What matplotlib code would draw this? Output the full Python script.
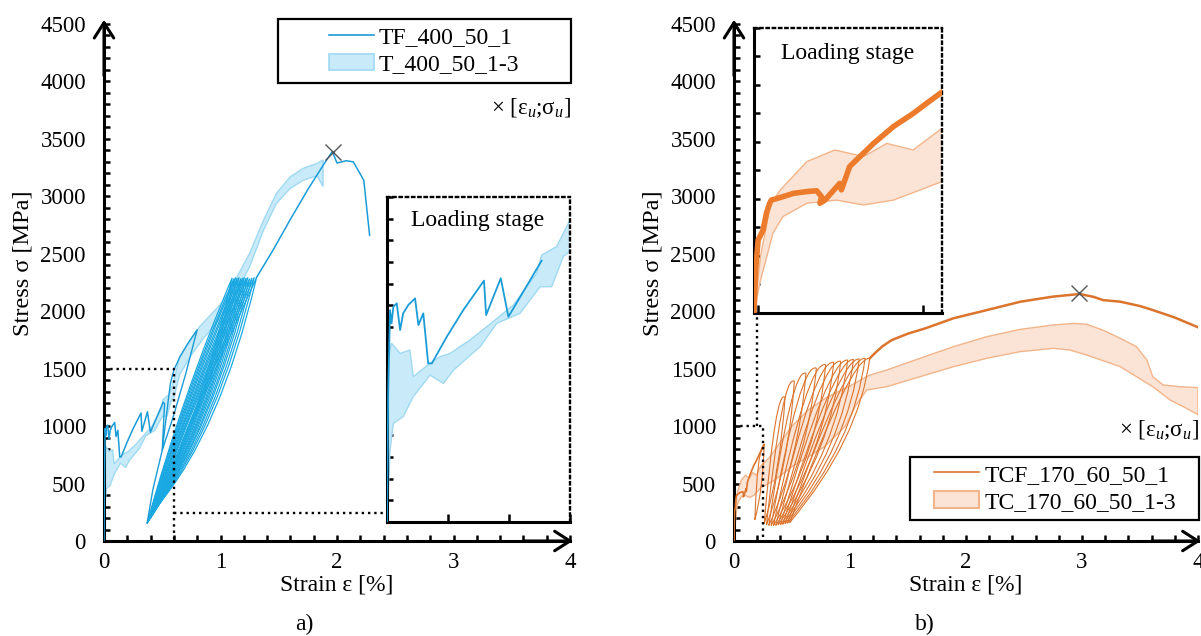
import matplotlib
matplotlib.use('Agg')
import matplotlib.pyplot as plt
from matplotlib.path import Path
from matplotlib.patches import PathPatch, Patch, Rectangle
from matplotlib.lines import Line2D
from matplotlib.ticker import MultipleLocator

plt.rcParams['font.family'] = ['Liberation Serif', 'DejaVu Serif']
plt.rcParams['mathtext.fontset'] = 'custom'
plt.rcParams['mathtext.rm'] = 'Liberation Serif'
plt.rcParams['mathtext.it'] = 'Liberation Serif:italic'

# ---------------- panel a) TF_400_50_1 / T_400_50_1-3 ----------------
tf_load_e = [0, 0.004, 0.01, 0.015, 0.021, 0.032, 0.043, 0.053, 0.07, 0.092, 0.103,
             0.119, 0.135, 0.147, 0.196, 0.25, 0.318, 0.325, 0.373, 0.398, 0.507]
tf_load_s = [0, 609, 978, 917, 994, 1009, 886, 963, 1002, 1032, 909,
             963, 732, 732, 855, 978, 1114, 955, 1125, 947, 1206]
tf_cyc_e = [0.507, 0.52, 0.50, 0.55, 0.57, 0.6, 0.65, 0.72, 0.8, 0.7, 0.6, 0.5, 0.42, 0.37]
tf_cyc_s = [1206, 1198, 792, 1212, 1372, 1488, 1600, 1720, 1840, 1450, 1100, 790, 450, 154]
tf_post_e = [1.31, 1.45, 1.60, 1.75, 1.90, 1.96, 2.0, 2.08, 2.14, 2.23, 2.28]
tf_post_s = [2295, 2530, 2800, 3060, 3300, 3390, 3290, 3310, 3300, 3140, 2660]

# unloading / reloading loops: bottom, top and curve control points
tf_loop_bot_e = [0.37, 0.375, 0.38, 0.385, 0.39, 0.40, 0.405, 0.41, 0.42, 0.425, 0.43, 0.44,
                 0.45, 0.46]
tf_loop_bot_s = [154, 162, 170, 180, 190, 200, 210, 220, 232, 245, 258, 272, 290, 310]
tf_loop_top_e = [1.10, 1.115, 1.13, 1.145, 1.16, 1.175, 1.19, 1.205, 1.22, 1.235, 1.25, 1.27,
                 1.29, 1.31]
tf_loop_top_s = [2290, 2285, 2295, 2290, 2295, 2285, 2290, 2295, 2290, 2295, 2285, 2290,
                 2295, 2295]
tf_loop_unl_e = [0.68, 0.69, 0.70, 0.71, 0.72, 0.73, 0.74, 0.75, 0.76, 0.77, 0.78, 0.80,
                 0.81, 0.83]
tf_loop_unl_s = [1290, 1285, 1280, 1275, 1270, 1265, 1260, 1255, 1250, 1245, 1240, 1235,
                 1230, 1225]
tf_loop_rel_e = [0.82, 0.83, 0.84, 0.85, 0.86, 0.87, 0.88, 0.89, 0.90, 0.92, 0.93, 0.95,
                 0.97, 1.00]
tf_loop_rel_s = [1030, 1025, 1020, 1015, 1010, 1005, 1000, 995, 990, 985, 980, 970,
                 960, 950]

t_band_up_e = [0, 0.004, 0.015, 0.043, 0.075, 0.086, 0.141, 0.174, 0.207, 0.239, 0.272, 0.327,
               0.414, 0.491, 0.507, 0.556, 0.6, 0.65, 0.82, 1.0, 1.08, 1.25, 1.37, 1.48, 1.60,
               1.71, 1.83, 1.88]
t_band_up_s = [0, 763, 825, 778, 794, 671, 732, 763, 778, 809, 840, 901,
               1001, 1148, 1232, 1271, 1394, 1604, 1865, 2060, 2180, 2504, 2794, 3026, 3171,
               3244, 3287, 3316]
t_band_lo_e = [0, 0.01, 0.021, 0.053, 0.086, 0.141, 0.185, 0.218, 0.305, 0.36, 0.436, 0.502,
               0.54, 0.578, 0.6, 0.65, 0.75, 0.85, 1.0, 1.08, 1.25, 1.37, 1.48, 1.60, 1.71,
               1.83, 1.88]
t_band_lo_s = [0, 332, 455, 486, 578, 678, 640, 701, 809, 917, 963, 1086,
               1086, 1225, 1250, 1450, 1620, 1760, 1940, 2050, 2388, 2707, 2939, 3070, 3140,
               3180, 3084]
tf_ult = (1.963, 3390)

# ---------------- panel b) TCF_170_60_50_1 / TC_170_60_50_1-3 ----------------
tcf_load_e = [0, 0.002, 0.005, 0.011, 0.015, 0.019, 0.021, 0.035, 0.048, 0.064, 0.076, 0.082,
              0.080, 0.086, 0.104, 0.106, 0.116, 0.145, 0.169, 0.193, 0.209, 0.226, 0.26]
tcf_load_s = [0, 150, 256, 291, 350, 385, 396, 408, 420, 426, 429, 408,
              385, 396, 455, 432, 514, 595, 654, 700, 735, 771, 840]
tcf_post_e = [1.17, 1.22, 1.28, 1.36, 1.50, 1.65, 1.89, 2.18, 2.47, 2.75, 2.98, 3.10, 3.18,
              3.33, 3.50, 3.61, 3.80, 4.0]
tcf_post_s = [1590, 1640, 1695, 1749, 1805, 1851, 1938, 2010, 2083, 2127, 2150, 2125, 2097,
              2083, 2045, 2010, 1945, 1860]

tcf_loop_bot_e = [0.18, 0.26, 0.28, 0.30, 0.32, 0.34, 0.36, 0.38, 0.40, 0.42, 0.44, 0.46, 0.48]
tcf_loop_bot_s = [185, 150, 140, 135, 135, 135, 135, 140, 140, 145, 150, 155, 160]
tcf_loop_top_e = [0.26, 0.44, 0.52, 0.62, 0.71, 0.79, 0.86, 0.92, 0.98, 1.03, 1.08, 1.13, 1.17]
tcf_loop_top_s = [840, 1250, 1390, 1460, 1505, 1535, 1555, 1565, 1575, 1580, 1585, 1590, 1590]
tcf_loop_unl_e = [0.20, 0.36, 0.42, 0.50, 0.57, 0.64, 0.70, 0.76, 0.82, 0.87, 0.92, 0.97, 1.01]
tcf_loop_unl_s = [800, 1330, 1460, 1520, 1560, 1580, 1590, 1600, 1600, 1600, 1605, 1610, 1610]
tcf_loop_rel_e = [0.25, 0.40, 0.47, 0.56, 0.64, 0.72, 0.78, 0.84, 0.89, 0.94, 0.99, 1.04, 1.08]
tcf_loop_rel_s = [450, 600, 650, 700, 720, 740, 760, 780, 800, 820, 840, 860, 880]

tc_band_up_e = [0, 0.008, 0.02, 0.032, 0.064, 0.098, 0.133, 0.161, 0.193, 0.228, 0.3, 0.4, 0.5,
                0.64, 0.8, 1.0, 1.172, 1.316, 1.603, 1.891, 2.178, 2.466, 2.753, 2.925, 3.04,
                3.18, 3.33, 3.47, 3.56, 3.61, 3.70, 3.84, 4.0]
tc_band_up_s = [0, 200, 380, 432, 531, 572, 549, 595, 572, 648, 720, 860, 1000,
                1140, 1250, 1350, 1445, 1488, 1590, 1691, 1778, 1842, 1880, 1894, 1886,
                1836, 1764, 1691, 1575, 1430, 1358, 1343, 1335]
tc_band_lo_e = [0, 0.007, 0.023, 0.035, 0.064, 0.1, 0.133, 0.169, 0.228, 0.35, 0.5, 0.78, 0.96,
                1.05, 1.144, 1.316, 1.603, 1.891, 2.178, 2.466, 2.753, 2.897, 3.04, 3.33, 3.61,
                3.76, 3.90, 4.0]
tc_band_lo_s = [0, 105, 280, 338, 385, 396, 379, 396, 461, 530, 647, 821, 1000,
                1180, 1314, 1343, 1430, 1517, 1590, 1648, 1677, 1662, 1619, 1517, 1343,
                1227, 1155, 1100]
tcf_ult = (2.977, 2156)

blue_line = '#1A9CD8'
blue_loop = '#1AA8E2'
blue_fill = '#C9EAF8'
blue_edge = '#9FD9F2'
orange_line = '#DB742D'
orange_thick = '#EC7B2C'
orange_fill = '#FBE4D5'
orange_edge = '#F2B48A'

FS = 16.5


def style_main(ax):
    ax.set_xlim(0, 4)
    ax.set_ylim(0, 4500)
    for s in ['top', 'right']:
        ax.spines[s].set_visible(False)
    for s in ['left', 'bottom']:
        ax.spines[s].set_linewidth(2.2)
    ax.xaxis.set_major_locator(MultipleLocator(1))
    ax.xaxis.set_minor_locator(MultipleLocator(0.2))
    ax.yaxis.set_major_locator(MultipleLocator(500))
    ax.yaxis.set_minor_locator(MultipleLocator(100))
    ax.tick_params(which='both', direction='in', length=4.5, width=1.8)
    ax.tick_params(axis='x', which='major', labelsize=FS, pad=8)
    ax.tick_params(axis='y', which='major', labelsize=FS, pad=13)
    ax.set_xlabel('Strain ε [%]', fontsize=17)
    ax.xaxis.set_label_coords(0.5, -0.064)
    ax.set_ylabel('Stress σ [MPa]', fontsize=17.5)
    ax.yaxis.set_label_coords(-0.152, 0.538)
    arrow = dict(arrowstyle='->,head_length=0.55,head_width=0.35', lw=2.2, color='k',
                 shrinkA=0, shrinkB=0, mutation_scale=20)
    ax.annotate('', xy=(0, 1.008), xytext=(0, 0.9), xycoords='axes fraction', arrowprops=arrow)
    ax.annotate('', xy=(1.006, 0), xytext=(0.9, 0), xycoords='axes fraction', arrowprops=arrow)


def style_inset(ax, xticks):
    ax.set_facecolor('white')
    for s in ['top', 'right']:
        ax.spines[s].set_linestyle(':')
        ax.spines[s].set_linewidth(1.7)
    for s in ['left', 'bottom']:
        ax.spines[s].set_linewidth(2.2)
    ax.set_xticks(xticks)
    ax.yaxis.set_major_locator(MultipleLocator(100))
    ax.tick_params(direction='in', width=1.8, labelleft=False, labelbottom=False)
    ax.tick_params(axis='y', length=4)
    ax.tick_params(axis='x', length=6)


def draw_loops(ax, be, bs, te, ts, ue, us, re_, rs, color, lw):
    codes = [Path.MOVETO, Path.CURVE3, Path.CURVE3, Path.CURVE3, Path.CURVE3]
    for i in range(len(be)):
        verts = [(be[i], bs[i]), (re_[i], rs[i]), (te[i], ts[i]), (ue[i], us[i]), (be[i], bs[i])]
        ax.add_patch(PathPatch(Path(verts, codes), fill=False, edgecolor=color, lw=lw, zorder=3))


def draw_band(ax, ue, us, le, ls, fc, ec):
    ax.fill(ue + le[::-1], us + ls[::-1], facecolor=fc, edgecolor=ec, lw=1.0, zorder=2)


fig = plt.figure(figsize=(12.01, 6.36), dpi=100)
ax1 = fig.add_axes([104 / 1201, 95 / 636, 466 / 1201, 517 / 636])
ax2 = fig.add_axes([734 / 1201, 95 / 636, 464 / 1201, 517 / 636])

# ---- panel a
style_main(ax1)
draw_band(ax1, t_band_up_e, t_band_up_s, t_band_lo_e, t_band_lo_s, blue_fill, blue_edge)
draw_loops(ax1, tf_loop_bot_e, tf_loop_bot_s, tf_loop_top_e, tf_loop_top_s,
           tf_loop_unl_e, tf_loop_unl_s, tf_loop_rel_e, tf_loop_rel_s, blue_loop, 0.9)
ax1.plot(tf_load_e, tf_load_s, color=blue_line, lw=1.1, zorder=4)
ax1.plot(tf_cyc_e, tf_cyc_s, color=blue_line, lw=1.0, zorder=4)
ax1.plot(tf_post_e, tf_post_s, color=blue_line, lw=1.1, zorder=4)
ax1.plot(*tf_ult, marker='x', color='#555555', ms=11, mew=1.0, zorder=5)
ax1.plot([0, 0.6, 0.6], [1500, 1500, 0], color='k', ls=':', lw=1.7, zorder=5)
ax1.plot([0.6, 2.43], [245, 245], color='k', ls=':', lw=1.7, zorder=5)

h1 = [Line2D([], [], color=blue_line, lw=1.2),
      Patch(facecolor=blue_fill, edgecolor=blue_edge, lw=1.2)]
ax1.legend(h1, ['TF_400_50_1', 'T_400_50_1-3'], loc='center', bbox_to_anchor=(0.687, 0.948),
           frameon=False, fontsize=17, handlelength=1.9, handleheight=0.7, handletextpad=0.2,
           labelspacing=0.25, borderpad=0, borderaxespad=0)
ax1.add_patch(Rectangle((0.3734, 0.8859), 0.6286, 0.1238, transform=ax1.transAxes, fill=False,
                        edgecolor='k', lw=1.6, clip_on=False, zorder=6))
ax1.text(1.002, 0.8375, '× [ε$_{u}$;σ$_{u}$]', transform=ax1.transAxes, ha='right', va='center',
         fontsize=FS)

ins1 = fig.add_axes([387 / 1201, 114 / 636, 183 / 1201, 325 / 636])
ins1.set_xlim(0, 0.6)
ins1.set_ylim(0, 1500)
style_inset(ins1, [0.2, 0.4, 0.6])
draw_band(ins1, t_band_up_e, t_band_up_s, t_band_lo_e, t_band_lo_s, blue_fill, blue_edge)
ins1.plot(tf_load_e, tf_load_s, color=blue_line, lw=1.3, zorder=4)
ins1.text(0.497, 0.929, 'Loading stage', transform=ins1.transAxes, ha='center', va='center',
          fontsize=17)

# ---- panel b
style_main(ax2)
draw_band(ax2, tc_band_up_e, tc_band_up_s, tc_band_lo_e, tc_band_lo_s, orange_fill, orange_edge)
draw_loops(ax2, tcf_loop_bot_e, tcf_loop_bot_s, tcf_loop_top_e, tcf_loop_top_s,
           tcf_loop_unl_e, tcf_loop_unl_s, tcf_loop_rel_e, tcf_loop_rel_s, orange_line, 0.8)
ax2.plot(tcf_load_e, tcf_load_s, color=orange_line, lw=1.2, zorder=4)
ax2.plot(tcf_post_e, tcf_post_s, color=orange_line, lw=1.8, zorder=4)
ax2.plot(*tcf_ult, marker='x', color='#555555', ms=11, mew=1.0, zorder=5)
ax2.plot([0, 0.25, 0.25], [1000, 1000, 0], color='k', ls=':', lw=1.7, zorder=5)
ax2.plot([0.2, 0.2], [1000, 1984], color='k', ls=':', lw=1.7, zorder=5)

h2 = [Line2D([], [], color=orange_line, lw=1.2),
      Patch(facecolor=orange_fill, edgecolor=orange_edge, lw=1.5)]
ax2.legend(h2, ['TCF_170_60_50_1', 'TC_170_60_50_1-3'], loc='center',
           bbox_to_anchor=(0.692, 0.1015), frameon=False, fontsize=17, handlelength=1.9,
           handleheight=0.7, handletextpad=0.2, labelspacing=0.25, borderpad=0,
           borderaxespad=0)
ax2.add_patch(Rectangle((0.3793, 0.0406), 0.6229, 0.1219, transform=ax2.transAxes, fill=False,
                        edgecolor='k', lw=1.6, clip_on=False, zorder=6))
ax2.text(1.002, 0.2147, '× [ε$_{u}$;σ$_{u}$]', transform=ax2.transAxes, ha='right', va='center',
         fontsize=FS)

ins2 = fig.add_axes([754 / 1201, 323 / 636, 188 / 1201, 285 / 636])
ins2.set_xlim(0, 0.228)
ins2.set_ylim(0, 1000)
style_inset(ins2, [0.005, 0.205])
draw_band(ins2, tc_band_up_e, tc_band_up_s, tc_band_lo_e, tc_band_lo_s, orange_fill, orange_edge)
ins2.plot(tcf_load_e, tcf_load_s, color=orange_thick, lw=4, zorder=4)
ins2.text(0.5, 0.912, 'Loading stage', transform=ins2.transAxes, ha='center', va='center',
          fontsize=17)

fig.text(304 / 1201, 12 / 636, 'a)', ha='center', va='center', fontsize=17)
fig.text(925 / 1201, 12 / 636, 'b)', ha='center', va='center', fontsize=17)

fig.savefig('out.png', dpi=100)
